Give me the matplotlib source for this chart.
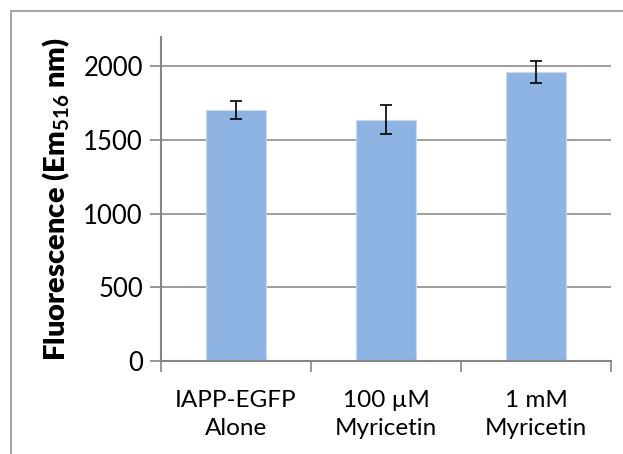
import matplotlib
matplotlib.use("Agg")
import matplotlib.pyplot as plt
from matplotlib.patches import Rectangle
import numpy as np

# Data
groups = ["IAPP-EGFP\nAlone", "100 \u00b5M\nMyricetin", "1 mM\nMyricetin"]
fluor = [1705, 1637, 1963]
fluor_err = [61, 98, 75]
yticks = [0, 500, 1000, 1500, 2000]

plt.rcParams['font.family'] = ['Lato', 'DejaVu Sans']
plt.rcParams['mathtext.fontset'] = 'custom'
plt.rcParams['mathtext.bf'] = 'Lato:bold'

fig = plt.figure(figsize=(6.23, 4.54), dpi=100)
ax = fig.add_axes([161/623, 1 - 361/454, 450/623, 324/454])

# outer chart frame (runs off the right and bottom)
fig.patches.append(Rectangle((11/623, -0.2), 2.0, 1.2 - 11/454,
                             transform=fig.transFigure, fill=False,
                             edgecolor='#a6a6a6', linewidth=1.5, clip_on=False))

x = np.arange(len(groups))
ax.bar(x, fluor, width=0.4, color='#8eb4e3', edgecolor='#c6d9f1', linewidth=0.8, zorder=2)
ax.errorbar(x, fluor, yerr=fluor_err, fmt='none', ecolor='black',
            elinewidth=1.2, capsize=4, capthick=1.2, zorder=3)

ax.set_xlim(-0.5, 2.5)
ax.set_ylim(0, 2200)
ax.set_yticks(yticks)
ax.yaxis.grid(True, color='#8c8c8c', linewidth=1.2, zorder=0)
ax.set_axisbelow(True)

ax.set_xticks(x)
ax.set_xticklabels(groups, fontsize=17.5, linespacing=1.4)
ax.set_xticks([-0.5, 0.5, 1.5, 2.5], minor=True)
ax.tick_params(axis='x', which='major', length=0, pad=21)
ax.tick_params(axis='x', which='minor', length=8, width=1.2, color='#868686', direction='out')
ax.tick_params(axis='y', length=8, width=1.2, color='#868686', labelsize=18.5, pad=5)

for s in ['top', 'right']:
    ax.spines[s].set_visible(False)
for s in ['left', 'bottom']:
    ax.spines[s].set_color('#868686')
    ax.spines[s].set_linewidth(1.5)

ax.set_ylabel(r"Fluorescence (Em$_{\mathbf{516}}$ nm)", fontsize=21, fontweight='heavy')
ax.yaxis.set_label_coords(-0.198, 0.5)

fig.savefig("out.png", dpi=100)
